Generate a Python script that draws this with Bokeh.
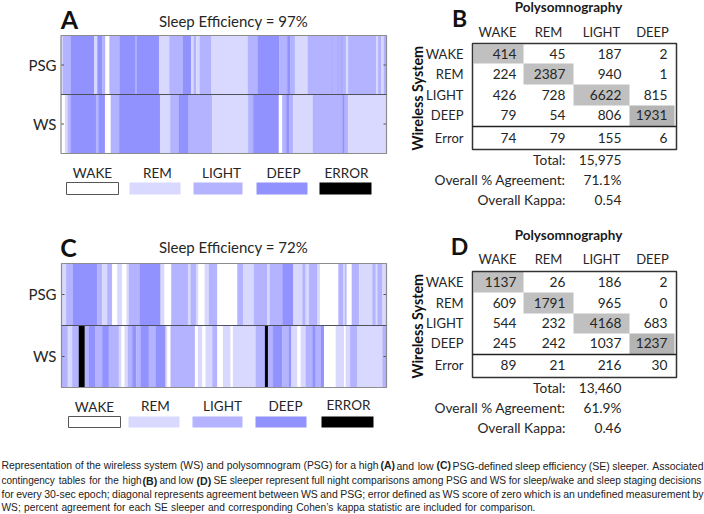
from bokeh.plotting import figure
from bokeh.models import ColumnDataSource, Range1d
from bokeh.core.properties import value
from bokeh.embed import file_html
from bokeh.resources import INLINE

W, H = 704, 514
FONT = "Lato"
CAP = "Liberation Sans"

stages = ["WAKE", "REM", "LIGHT", "DEEP", "ERROR"]
colors = {"WAKE": "#ffffff", "REM": "#d9d9ff", "LIGHT": "#b3b3ff", "DEEP": "#9292ff", "ERROR": "#000000",
          "W": "#ffffff", "R": "#d9d9ff", "L": "#b3b3ff", "D": "#9292ff", "E": "#000000"}

# hypnograms: stage and run length in 30-sec epochs
a_psg_stage = list("RLDRDLWLDLDRLDRLRLRLDLDLRLDLDLDLRLRLRL")
a_psg_epochs = [6,23,70,9,15,9,12,30,48,3,67,30,40,25,7,8,10,35,108,29,65,23,10,13,38,72,2,15,3,8,4,10,6,84,5,10,7,8]
a_ws_stage = list("WRLDLDWLDRLDLRLDWLDLRLDLR")
a_ws_epochs = [12,8,10,75,7,20,17,25,123,30,25,30,70,108,15,77,10,12,10,11,59,88,7,10,115]
c_psg_stage = list("RLDLRLWRWRLDRWLRLRWRLWLRLRLDRLRLRWLRLWLRLRLR")
c_psg_epochs = [14,20,73,15,15,15,15,15,13,7,32,63,12,20,50,8,17,6,19,13,25,60,18,32,40,7,38,33,27,10,10,25,8,55,15,5,5,15,22,40,10,5,15,12]
c_ws_stage = list("LRLELDLDLRWRLDLDLDRWLWRWRLWRWRLELDLDRWRLDLDWRWRLRL")
c_ws_epochs = [19,13,20,18,12,20,20,20,30,8,9,10,13,12,13,25,20,30,5,10,73,9,13,10,20,15,17,23,7,68,28,9,15,28,20,7,18,10,15,20,10,15,10,35,25,5,13,22,75,12]

# contingency tables: rows are WS stage, columns are PSG stage
columns = ["WAKE", "REM", "LIGHT", "DEEP"]
rows = ["WAKE", "REM", "LIGHT", "DEEP", "Error"]
b_wake = [414, 45, 187, 2]
b_rem = [224, 2387, 940, 1]
b_light = [426, 728, 6622, 815]
b_deep = [79, 54, 806, 1931]
b_error = [74, 79, 155, 6]
d_wake = [1137, 26, 186, 2]
d_rem = [609, 1791, 965, 0]
d_light = [544, 232, 4168, 683]
d_deep = [245, 242, 1037, 1237]
d_error = [89, 21, 216, 30]
b_stats = ["15,975", "71.1%", "0.54"]
d_stats = ["13,460", "61.9%", "0.46"]
stat_labels = ["Total:", "Overall % Agreement:", "Overall Kappa:"]

caption_line1 = [("Representation of the wireless system (WS) and polysomnogram (PSG) for a high", 0, 1, 378, 10.4),
                 ("(A)", 1, 380, 392, 10.4), ("and low", 0, 396, 433, 10.5), ("(C)", 1, 436, 448, 10.4),
                 ("PSG-defined sleep efficiency (SE) sleeper. Associated", 0, 452, 703, 10.5)]
caption_line2 = [("contingency tables for the high", 0, 1, 141, 10.0),
                 ("(B)", 1, 142, 157, 10.6), ("and low", 0, 159, 193, 10.0), ("(D)", 1, 196, 209, 10.6),
                 ("SE sleeper represent full night comparisons among PSG and WS for sleep/wake and sleep staging decisions", 0, 213, 701, 10.2)]
caption_line3 = [("for every 30-sec epoch; diagonal represents agreement between WS and PSG; error defined as WS score of zero which is an undefined measurement by", 0, 1, 703, 10.5)]
caption_line4 = [("WS; percent agreement for each SE sleeper and corresponding Cohen\u2019s kappa statistic are included for comparison.", 0, 1, 535, 10.2)]

# Helvetica advance widths (per 1000 em), used to spread caption words across their measured span
AFM = dict(zip("abcdefghijklmnopqrstuvwxyz", [556,556,500,556,556,278,556,556,222,222,500,222,833,556,556,556,556,333,500,278,556,500,722,500,500,500]))
AFM.update(zip("ABCDEFGHIJKLMNOPQRSTUVWXYZ", [667,667,722,722,667,611,778,722,278,500,667,556,833,722,778,667,778,722,667,611,722,667,944,667,667,611]))
AFM.update({c: 556 for c in "0123456789"})
AFM.update({"(": 333, ")": 333, ";": 278, ",": 278, ".": 278, "-": 333, "/": 278, "\u2019": 222})

p = figure(width=W, height=H, x_range=Range1d(0, W), y_range=Range1d(H, 0), output_backend="svg",
           toolbar_location=None, min_border=0, outline_line_color=None, background_fill_color="white")
p.xaxis.visible = False
p.yaxis.visible = False
p.grid.visible = False


def label(x, y, text, size=14, align="center", bold=False, angle=0, font=FONT, color="#262626"):
    p.text([x], [y], text=[text], text_font=value(font), text_font_size=f"{size}px", text_align=align,
           text_baseline="middle", text_font_style="bold" if bold else "normal", angle=angle,
           text_color=color)


def fit_words(text, x0, x1, y, size, bold):
    words = text.split(" ")
    widths = [sum(AFM.get(c, 556) for c in w) * size / 1000 for w in words]
    gap = (x1 - x0 - sum(widths)) / max(len(words) - 1, 1)
    xs, x = [], x0
    for w in widths:
        xs.append(x)
        x += w + gap
    p.text(xs, [y] * len(words), text=words, text_font=value(CAP), text_font_size=f"{size}px", text_align="left",
           text_baseline="middle", text_font_style="bold" if bold else "normal", text_color="#222222")


def box(x0, x1, y0, y1, fill, line=None, width=1):
    p.quad(left=[x0], right=[x1], top=[y0], bottom=[y1], fill_color=fill, line_color=line, line_width=width)


def strip_panel(name, left, right, top, mid, bottom, runs_top, runs_bottom):
    """Draw both hypnogram rows through named ranges: x in epochs, y in rows."""
    total = sum(runs_top[1])
    kx = total / (right - left)
    p.extra_x_ranges[name] = Range1d(-left * kx, (W - left) * kx)
    for row, (stage, epochs), (py0, py1) in ((1, runs_top, (top, mid)), (0, runs_bottom, (mid, bottom))):
        scale = sum(epochs) / total
        starts, ends, c = [], [], []
        t = 0
        for s, n in zip(stage, epochs):
            starts.append(t / scale)
            t += n
            ends.append(t / scale)
            c.append(colors[s])
        rname = f"{name}{row}"
        ky = 1 / (py1 - py0)
        p.extra_y_ranges[rname] = Range1d(-(H - py1) * ky, py1 * ky)
        src = ColumnDataSource(dict(left=starts, right=ends, c=c))
        p.quad(left="left", right="right", bottom=0, top=1, fill_color="c", line_color="c", line_width=0.2,
               source=src, x_range_name=name, y_range_name=rname)
        ymid = (py0 + py1) / 2
        p.segment([left, right - 3], [ymid, ymid], [left + 3, right], [ymid, ymid], line_color="#555555", line_width=1)
    p.quad(left=[left], right=[right], top=[top], bottom=[bottom], fill_color=None, line_color="#8c8c8c", line_width=1.2)
    p.segment([left], [mid], [right], [mid], line_color="#50505f", line_width=1.2)


def legend(y_labels, label_x, boxes, y0, y1):
    for s, yl, x, (b0, b1) in zip(stages, y_labels, label_x, boxes):
        label(x, yl, s, size=13.5)
        box(b0, b1, y0, y1, colors[s], line="#555555" if s == "WAKE" else None)


def table(top, mid, bottom, title_y, head_y, row_ys, stat_ys, letter, letter_y, vals, stats, gray_ys):
    col_right = [516, 565, 621, 667]
    gray_x = [473, 523, 573, 629, 674]
    for i in range(4):
        box(gray_x[i], gray_x[i + 1], gray_ys[i], gray_ys[i + 1], "#c0c0c0" if i < 3 else "#b4b4b4")
    p.quad(left=[472], right=[676], top=[top], bottom=[bottom], fill_color=None, line_color="#333333", line_width=1.5)
    p.segment([472], [mid], [676], [mid], line_color="#222222", line_width=1.5)
    label(568, title_y, "Polysomnography", size=13.5, bold=True, color="#1a1a1a")
    label(459, letter_y, letter, size=23, bold=True, color="#111111")
    label(417, (top + bottom) / 2, "Wireless  System", size=14.3, bold=True, angle=1.5708, color="#111111")
    for c, x in zip(columns, [497, 548, 601, 652]):
        label(x, head_y, c, size=13)
    for r, y, row_vals in zip(rows, row_ys, vals):
        label(463, y, r, align="right", size=13)
        for v, x in zip(row_vals, col_right):
            label(x, y, str(v), align="right", size=13.7)
    for l, s, y in zip(stat_labels, stats, stat_ys):
        label(565, y, l, align="right", size=13.7)
        label(621, y, s, align="right", size=13.7)


# panels A and C
label(69, 18, "A", size=25, bold=True, color="#111111")
label(233, 20, "Sleep Efficiency = 97%", size=15)
strip_panel("A", 60.5, 386, 35, 94, 153, (a_psg_stage, a_psg_epochs), (a_ws_stage, a_ws_epochs))
label(56, 64, "PSG", size=15, align="right")
label(56, 123, "WS", size=15, align="right")
legend([172] * 5, [92, 157, 221, 283, 346], [(66, 118), (129, 180), (193, 242), (256, 307), (319, 371)], 182, 194)

label(68, 246, "C", size=25, bold=True, color="#111111")
label(233, 246, "Sleep Efficiency = 72%", size=15)
strip_panel("C", 61, 386, 263, 325, 387, (c_psg_stage, c_psg_epochs), (c_ws_stage, c_ws_epochs))
label(56, 293, "PSG", size=15, align="right")
label(56, 355, "WS", size=15, align="right")
legend([406, 405, 405, 405, 404], [94, 155, 222, 285, 348], [(68, 120), (128, 179), (192, 242), (255, 306), (321, 373)], 416, 427)

# tables B and D
table(43, 126, 149, 6, 31, [53, 73, 94, 114, 137], [159, 179, 199], "B", 17,
      [b_wake, b_rem, b_light, b_deep, b_error], b_stats, [44, 63, 84, 105, 126])
table(271, 354, 377, 234, 258, [281, 302, 322, 342, 364], [387, 407, 427], "D", 245,
      [d_wake, d_rem, d_light, d_deep, d_error], d_stats, [271, 292, 313, 333, 354])

# caption
for line, y in ((caption_line1, 465), (caption_line2, 480), (caption_line3, 493), (caption_line4, 507)):
    for txt, bold, x0, x1, size in line:
        fit_words(txt, x0, x1, y, size, bool(bold))

open("out.html", "w").write(file_html(p, INLINE))
